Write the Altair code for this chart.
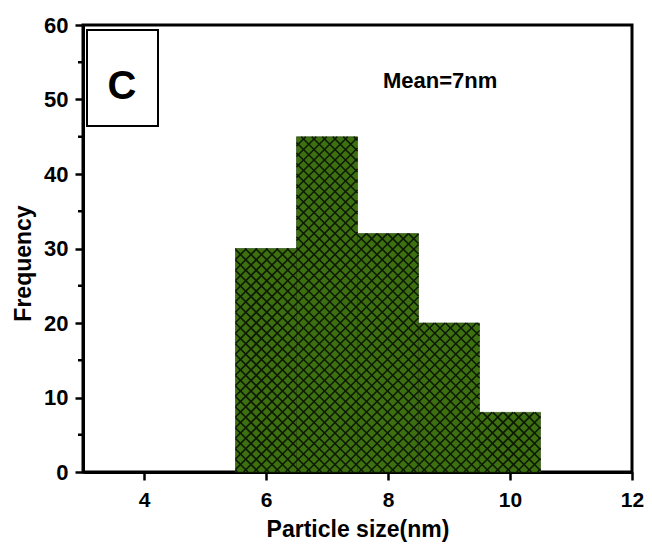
import altair as alt
import pandas as pd
import numpy as np

# ---- data ----
bin_start = [5.5, 6.5, 7.5, 8.5, 9.5]
bin_end = [6.5, 7.5, 8.5, 9.5, 10.5]
counts = [30, 45, 32, 20, 8]
x_ticks = [4, 6, 8, 10, 12]
y_ticks = [0, 10, 20, 30, 40, 50, 60]
y_minor = [5, 15, 25, 35, 45, 55]

X_DOMAIN = [3, 12]
Y_DOMAIN = [0, 60]
W, H = 549, 447
FONT = "Liberation Sans"

bars = pd.DataFrame({"x0": bin_start, "x1": bin_end, "count": counts})

# ---- crosshatch lines derived from the bars (45 degrees in pixel space) ----
sx = W / (X_DOMAIN[1] - X_DOMAIN[0])
sy = H / (Y_DOMAIN[1] - Y_DOMAIN[0])
spacing = 10.5
segs = []
for x0, x1, h in zip(bin_start, bin_end, counts):
    X0, X1, Y1 = (x0 - X_DOMAIN[0]) * sx, (x1 - X_DOMAIN[0]) * sx, h * sy
    for c in np.arange(-1200, 1200, spacing):
        a, b = max(X0, -c), min(X1, Y1 - c)
        if b > a:
            segs.append((a, a + c, b, b + c))
    for c in np.arange(-1200, 1800, spacing):
        a, b = max(X0, c - Y1), min(X1, c)
        if b > a:
            segs.append((a, c - a, b, c - b))
hatch = pd.DataFrame(
    [
        {
            "hx": p0 / sx + X_DOMAIN[0],
            "hy": q0 / sy,
            "hx2": p1 / sx + X_DOMAIN[0],
            "hy2": q1 / sy,
        }
        for p0, q0, p1, q1 in segs
    ]
)

xscale = alt.Scale(domain=X_DOMAIN, nice=False, zero=False)
yscale = alt.Scale(domain=Y_DOMAIN, nice=False)

bar_layer = (
    alt.Chart(bars)
    .mark_rect(color="#3d7010", stroke="#24400a", strokeWidth=0.6)
    .encode(
        x=alt.X(
            "x0:Q",
            scale=xscale,
            axis=alt.Axis(
                values=x_ticks,
                format="d",
                title="Particle size(nm)",
                titleX=W / 2,
                titleY=64,
                titleBaseline="alphabetic",
                labelFlush=False,
                labelPadding=9,
                labelFontSize=21,
            ),
        ),
        x2="x1:Q",
        y=alt.Y(
            "count:Q",
            scale=yscale,
            axis=alt.Axis(
                values=y_ticks,
                format="d",
                title="Frequency",
                titleX=-60,
                titleY=238,
                titleBaseline="middle",
                labelPadding=7,
            ),
        ),
        y2=alt.datum(0),
    )
)

hatch_layer = (
    alt.Chart(hatch)
    .mark_rule(color="#0e1a04", strokeWidth=1.6)
    .encode(x="hx:Q", y="hy:Q", x2="hx2:Q", y2="hy2:Q")
)

minor = (
    alt.Chart(pd.DataFrame({"m": y_minor}))
    .mark_rule(color="black", strokeWidth=2.5)
    .encode(y="m:Q", x=alt.value(-5), x2=alt.value(0))
)

one = pd.DataFrame({"a": [0]})
box = (
    alt.Chart(one)
    .mark_rect(fill="white", stroke="black", strokeWidth=2)
    .encode(x=alt.value(4), x2=alt.value(75), y=alt.value(5), y2=alt.value(101))
)
c_text = (
    alt.Chart(one)
    .mark_text(text="C", fontSize=40, fontWeight="bold", font=FONT,
               align="center", baseline="middle", color="black")
    .encode(x=alt.value(39), y=alt.value(62))
)
mean_text = (
    alt.Chart(one)
    .mark_text(text="Mean=7nm", fontSize=22, fontWeight="bold", font=FONT,
               align="left", baseline="middle", color="black")
    .encode(x=alt.value(300), y=alt.value(56))
)

chart = (
    alt.layer(bar_layer, hatch_layer, minor, box, c_text, mean_text)
    .properties(
        width=W,
        height=H,
        autosize=alt.AutoSizeParams(type="none"),
        padding={"left": 75, "top": 17, "right": 12, "bottom": 70},
    )
    .configure_view(stroke="black", strokeWidth=3)
    .configure_axis(
        domainColor="black",
        domainWidth=3,
        tickColor="black",
        tickWidth=2.5,
        tickSize=8,
        grid=False,
        labelFont=FONT,
        labelFontSize=22,
        labelFontWeight="bold",
        labelColor="black",
        titleFont=FONT,
        titleFontSize=23,
        titleFontWeight="bold",
        titleColor="black",
    )
)

chart.save("out.html", embed_options={"renderer": "svg", "actions": False})
